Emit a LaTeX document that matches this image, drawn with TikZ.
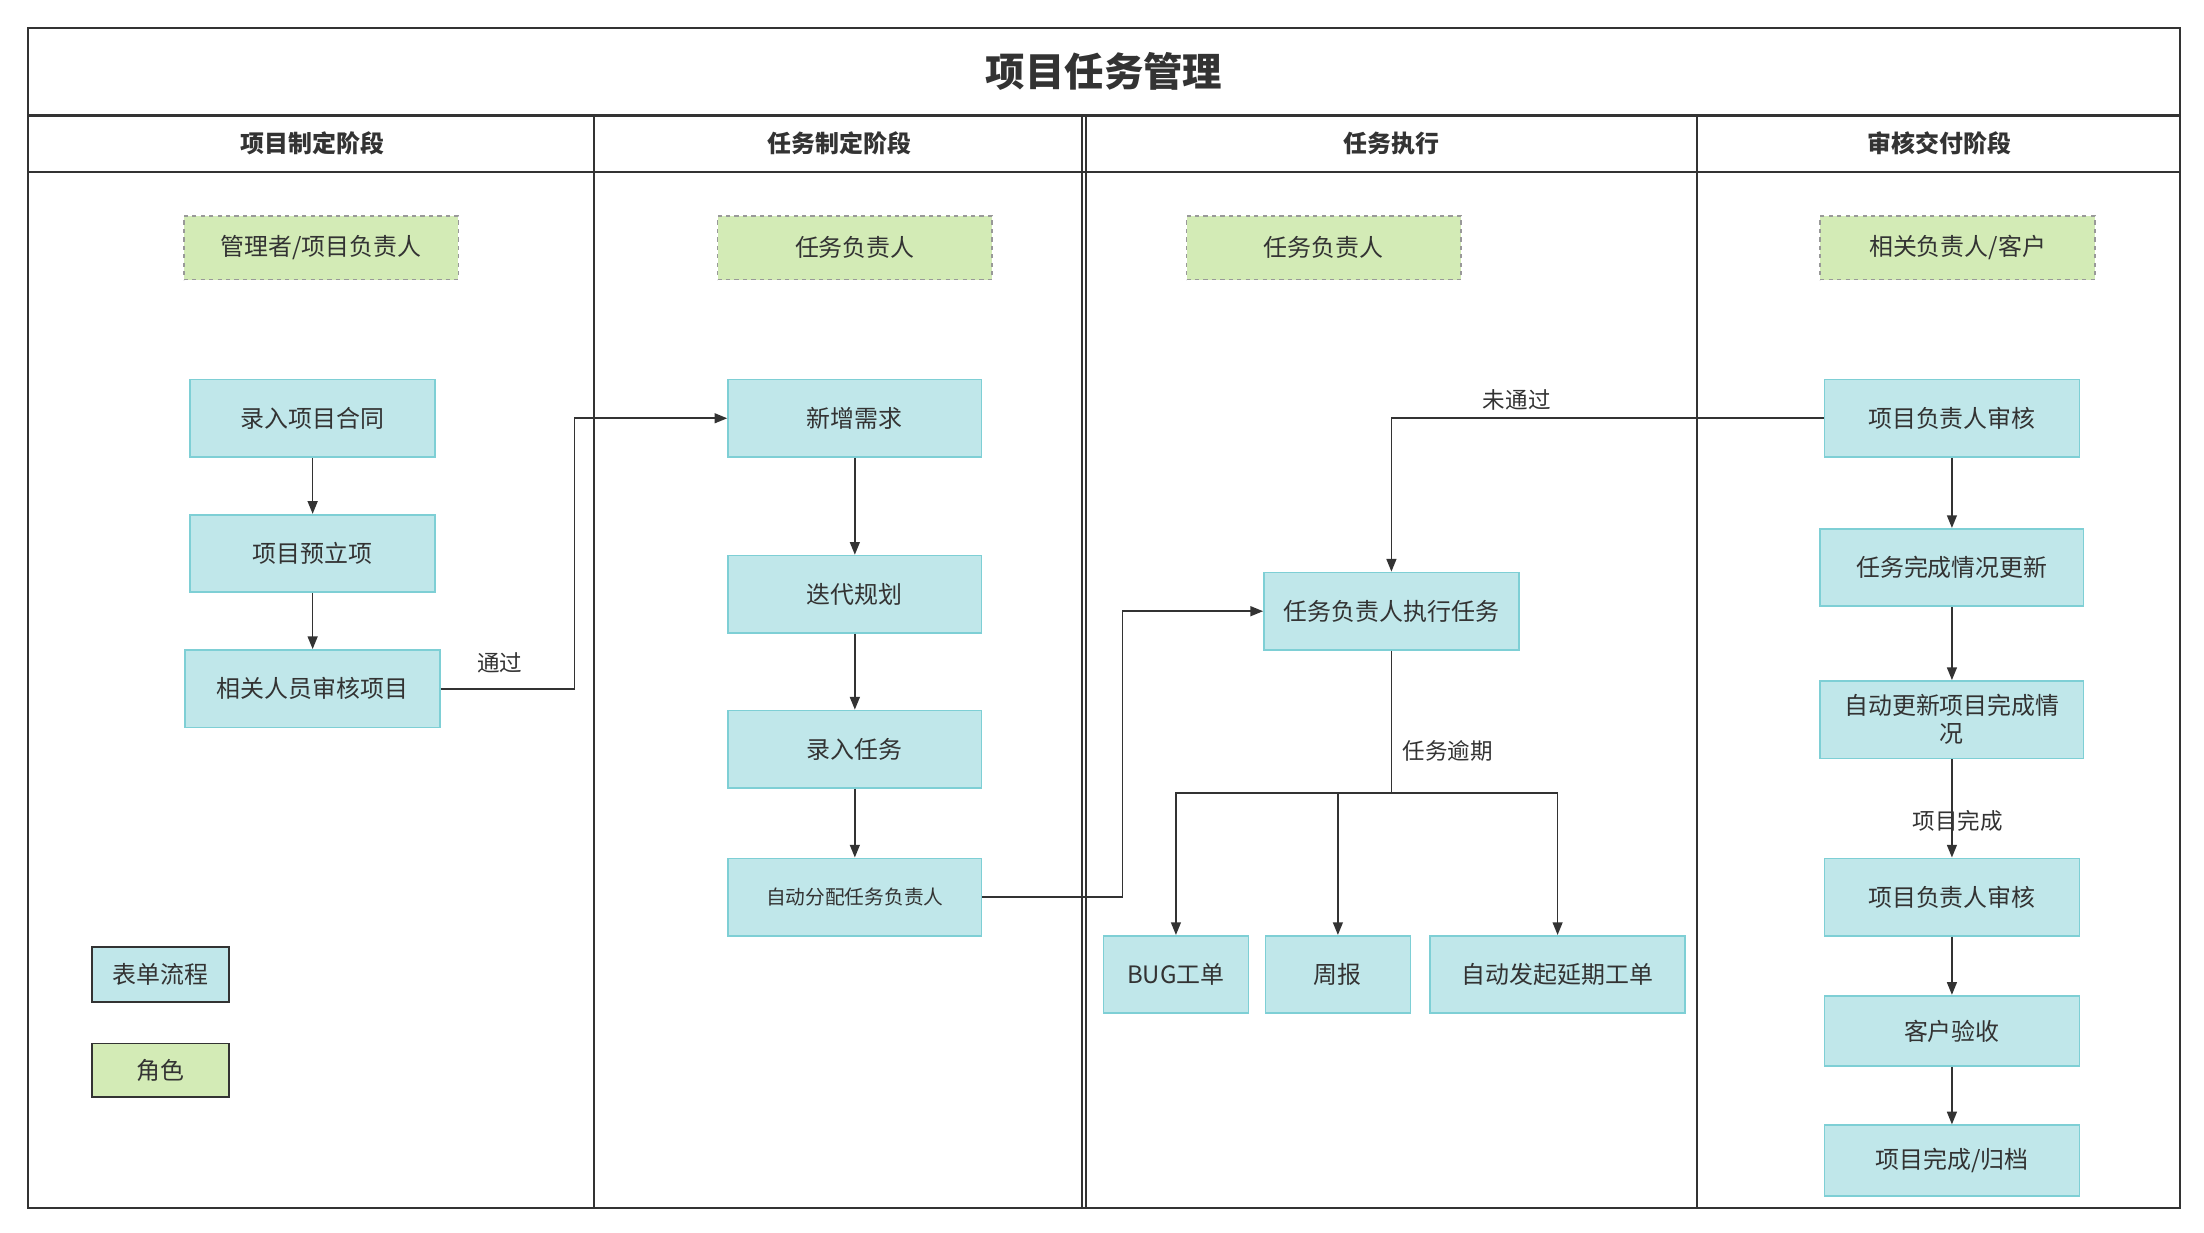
\documentclass[tikz,border=0pt]{standalone}
\usepackage{fontspec}
\setmainfont{Noto Sans CJK SC}
\usetikzlibrary{arrows.meta}
\definecolor{bfill}{HTML}{C0E7EA}
\definecolor{bline}{HTML}{7ECFD5}
\definecolor{gfill}{HTML}{D3EBB6}
\definecolor{txt}{HTML}{333333}
\begin{document}
\begin{tikzpicture}[x=1pt,y=-1pt,
  box/.style={draw=bline,fill=bfill,line width=1.2pt,text=txt,font=\fontsize{17}{20}\selectfont,inner sep=0pt,align=center},
  role/.style={draw=gray!80,dashed,fill=gfill,line width=1.2pt,text=txt,font=\fontsize{17}{20}\selectfont,inner sep=0pt,minimum width=195pt,minimum height=45pt},
  arr/.style={draw=txt,line width=1.2pt,-{Triangle[length=9pt,width=7pt]}},
  lbl/.style={text=txt,font=\fontsize{16}{18}\selectfont,fill=white,inner sep=1pt},
  lane/.style={draw=txt,line width=1.5pt}]
\useasboundingbox (0,0) rectangle (1565,875);
\draw[lane] (20,20) rectangle (1548,858);
\draw[lane] (20,82) -- (1548,82);
\draw[lane] (20,122) -- (1548,122);
\foreach \x in {422,768,771,1205} \draw[lane] (\x,82) -- (\x,858);
\node[font=\fontsize{28}{32}\selectfont\bfseries,text=txt] (title) at (784,51) {项目任务管理};
\foreach \x/\t/\n in {222/项目制定阶段/h1,596/任务制定阶段/h2,988/任务执行/h3,1377/审核交付阶段/h4}
  \node[font=\fontsize{17}{20}\selectfont\bfseries,text=txt] (\n) at (\x,102) {\t};
\node[role] (r1) at (228,176) {管理者/项目负责人};
\node[role] (r2) at (607,176) {任务负责人};
\node[role] (r3) at (940,176) {任务负责人};
\node[role] (r4) at (1390,176) {相关负责人/客户};
\node[box,minimum width=174pt,minimum height=55pt] (a1) at (222,297) {录入项目合同};
\node[box,minimum width=174pt,minimum height=55pt] (a2) at (222,393) {项目预立项};
\node[box,minimum width=181pt,minimum height=55pt] (a3) at (222,489) {相关人员审核项目};
\node[box,minimum width=180pt,minimum height=55pt] (b1) at (607,297) {新增需求};
\node[box,minimum width=180pt,minimum height=55pt] (b2) at (607,422) {迭代规划};
\node[box,minimum width=180pt,minimum height=55pt] (b3) at (607,532) {录入任务};
\node[box,minimum width=180pt,minimum height=55pt,font=\fontsize{14}{17}\selectfont] (b4) at (607,637) {自动分配任务负责人};
\node[box,minimum width=181pt,minimum height=55pt] (c1) at (988,434) {任务负责人执行任务};
\node[box,minimum width=103pt,minimum height=55pt] (c2) at (835,692) {BUG工单};
\node[box,minimum width=103pt,minimum height=55pt] (c3) at (950,692) {周报};
\node[box,minimum width=181pt,minimum height=55pt] (c4) at (1106,692) {自动发起延期工单};
\node[box,minimum width=181pt,minimum height=55pt] (d1) at (1386,297) {项目负责人审核};
\node[box,minimum width=187pt,minimum height=55pt] (d2) at (1386,403) {任务完成情况更新};
\node[box,minimum width=187pt,minimum height=55pt] (d3) at (1386,511) {自动更新项目完成情\\况};
\node[box,minimum width=181pt,minimum height=55pt] (d4) at (1386,637) {项目负责人审核};
\node[box,minimum width=181pt,minimum height=50pt] (d5) at (1386,732) {客户验收};
\node[box,minimum width=181pt,minimum height=50pt] (d6) at (1386,824) {项目完成/归档};
\node[box,draw=txt,minimum width=97pt,minimum height=39pt] (l1) at (114,692) {表单流程};
\node[box,draw=txt,fill=gfill,minimum width=97pt,minimum height=38pt] (l2) at (114,760) {角色};
\draw[arr] (a1) -- (a2);
\draw[arr] (a2) -- (a3);
\draw[arr] (a3.east) -- (408,489) -- (408,297) -- (b1.west);
\node[lbl] (t1) at (355,471) {通过};
\draw[arr] (b1) -- (b2);
\draw[arr] (b2) -- (b3);
\draw[arr] (b3) -- (b4);
\draw[arr] (b4.east) -- (797,637) -- (797,434) -- (c1.west);
\draw[arr] (d1.west) -- (988,297) -- (c1.north);
\node[lbl] (t2) at (1077,284) {未通过};
\coordinate (sp) at (988,563);
\draw[txt,line width=1.2pt] (c1.south) -- (sp);
\node[lbl,fill=none] (t3) at (1028,533) {任务逾期};
\draw[arr] (sp) -- (835,563) -- (c2.north);
\draw[arr] (sp) -- (950,563) -- (c3.north);
\draw[arr] (sp) -- (1106,563) -- (c4.north);
\draw[arr] (d1) -- (d2);
\draw[arr] (d2) -- (d3);
\draw[arr] (d3) -- (d4);
\node[lbl,fill=none] (t4) at (1390,583) {项目完成};
\draw[arr] (d4) -- (d5);
\draw[arr] (d5) -- (d6);
\end{tikzpicture}
\end{document}
